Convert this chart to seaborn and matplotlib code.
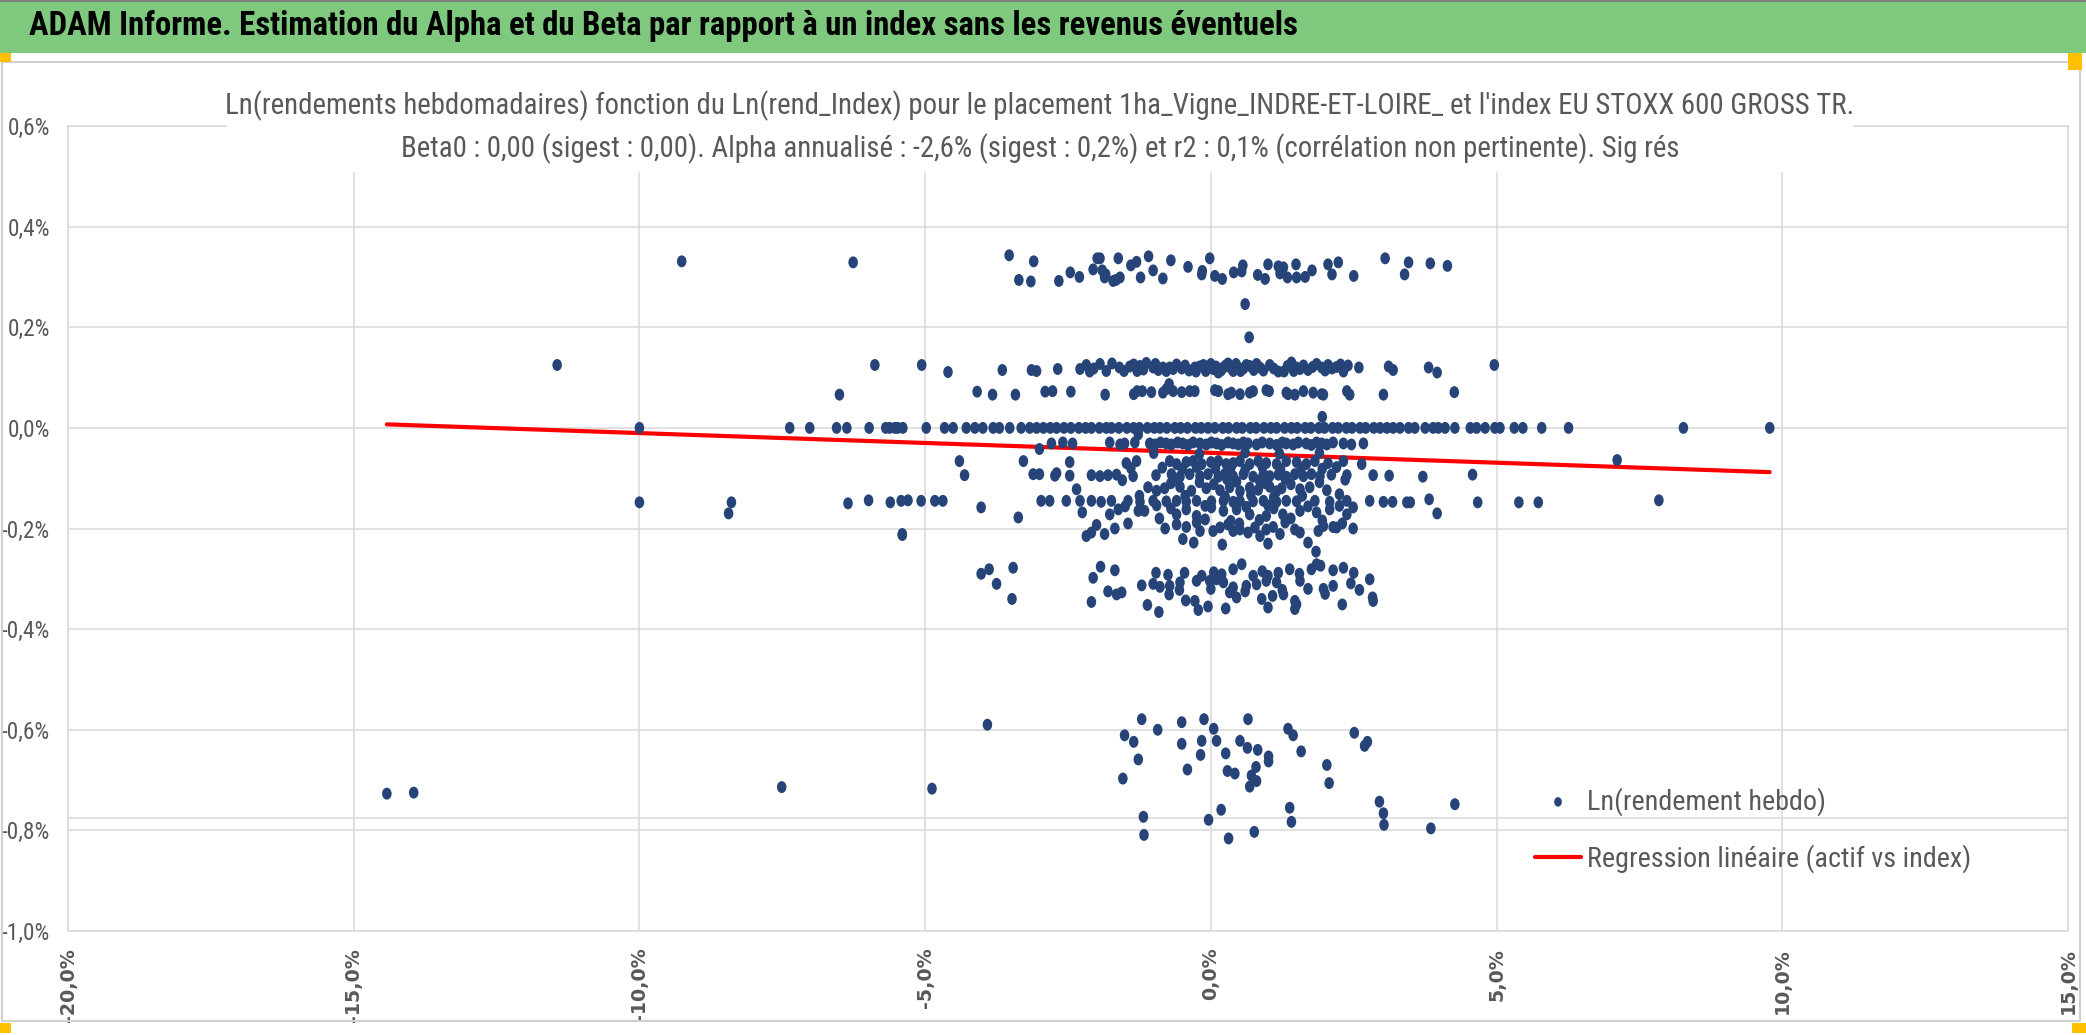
import numpy as np
import pandas as pd
import seaborn as sns
import matplotlib.pyplot as plt
from matplotlib.patches import Rectangle
from matplotlib.path import Path
from matplotlib.ticker import FuncFormatter

# pixel size of the reference
W, H = 2086, 1035

# ---- data (x = Ln(rend_Index) %, y = Ln(rendement hebdo) %) ----
top_x = [-9.26, -6.26, -3.53, -3.10, -3.36, -3.15, -2.66, -2.46, -2.06, -1.99, -1.94, -1.90,
         -1.84, -1.86, -1.71, -1.66, -1.59, -1.62, -1.40, -1.23, -1.09, -1.01, -0.84, -0.70,
         -0.15, -0.16, -0.02, 0.07, 0.40, 0.56, 0.54, 0.82, 1.18, 1.21, 1.27, 1.34, 1.49,
         1.50, 1.77, 2.05, 2.12, 2.23, 3.05, 3.46, 3.39, 3.84, 4.14, 0.60, 0.67, 1.95,
         -2.30, -0.40, 0.20, 1.00, 1.65, 2.50, -1.30, 0.95]
top_y = [0.331, 0.329, 0.343, 0.331, 0.294, 0.291, 0.292, 0.309, 0.315, 0.337, 0.337, 0.313,
         0.305, 0.299, 0.292, 0.294, 0.299, 0.337, 0.323, 0.299, 0.341, 0.313, 0.297, 0.333,
         0.312, 0.305, 0.337, 0.302, 0.309, 0.323, 0.311, 0.304, 0.321, 0.307, 0.319, 0.299, 0.325,
         0.299, 0.313, 0.325, 0.305, 0.329, 0.337, 0.329, 0.305, 0.327, 0.322, 0.246, 0.180, 0.022,
         0.300, 0.320, 0.296, 0.325, 0.300, 0.302, 0.330, 0.296]

hi_x = [-11.44, -5.88, -5.06, -4.60, -3.65, -3.14, -3.05, -2.68, -2.29, -2.18, -2.12, -1.94,
        -1.83, -1.73, -1.52, -1.42, -1.29, -1.24, -1.13, -1.01, -0.92, -0.84, -0.72, -0.60,
        -0.51, -0.28, -0.26, -0.13, -0.05, 0.04, 0.13, 0.22, 0.30, 0.39, 0.48, 0.57, 0.68,
        0.75, 0.86, 1.03, 1.28, 1.34, 1.41, 1.50, 1.56, 1.70, 1.85, 1.94, 2.05, 2.20, 2.32,
        2.40, 2.59, 3.11, 3.19, 3.81, 3.96, 4.96,
        -2.05, -1.60, -1.35, -1.18, -0.97, -0.78, -0.66, -0.45, -0.38, -0.20, -0.09, 0.00,
        0.09, 0.18, 0.26, 0.35, 0.44, 0.52, 0.62, 0.80, 0.92, 1.10, 1.18, 1.45, 1.62, 1.78,
        2.00, 2.12, 2.27]
hi_y = [0.125, 0.125, 0.125, 0.111, 0.115, 0.115, 0.113, 0.117, 0.117, 0.125, 0.112, 0.127,
        0.113, 0.128, 0.113, 0.122, 0.113, 0.123, 0.129, 0.120, 0.115, 0.120, 0.120, 0.126,
        0.118, 0.120, 0.112, 0.125, 0.120, 0.117, 0.110, 0.120, 0.128, 0.113, 0.120, 0.118, 0.123,
        0.115, 0.120, 0.125, 0.112, 0.123, 0.130, 0.120, 0.117, 0.115, 0.127, 0.120, 0.125, 0.121, 0.112,
        0.124, 0.120, 0.122, 0.115, 0.120, 0.110, 0.125,
        0.118, 0.120, 0.126, 0.116, 0.127, 0.113, 0.117, 0.124, 0.114, 0.122, 0.113, 0.127,
        0.122, 0.114, 0.124, 0.119, 0.127, 0.113, 0.125, 0.127, 0.114, 0.118, 0.112, 0.113, 0.124, 0.121,
        0.114, 0.118, 0.126]

mid_x = [-6.50, -4.09, -3.82, -3.42, -2.90, -2.77, -2.45, -1.85, -1.35, -1.29, -1.20, -1.04,
         -0.84, -0.78, -0.73, -0.66, -0.51, -0.37, -0.28, 0.07, 0.13, 0.30, 0.36, 0.51, 0.68,
         0.74, 0.97, 1.02, 1.32, 1.35, 1.47, 1.62, 1.79, 1.94, 1.97, 2.38, 2.43, 3.02, 4.26]
mid_y = [0.066, 0.072, 0.066, 0.066, 0.072, 0.073, 0.072, 0.066, 0.067, 0.073, 0.073, 0.071,
         0.070, 0.077, 0.087, 0.073, 0.071, 0.073, 0.073, 0.075, 0.073, 0.067, 0.070, 0.067, 0.070,
         0.073, 0.075, 0.073, 0.070, 0.067, 0.066, 0.073, 0.070, 0.067, 0.066, 0.073, 0.066, 0.066, 0.071]

zero_x = [-10.0, -7.37, -7.02, -6.55, -6.37, -5.98, -5.69, -5.62, -5.53, -5.48, -5.39, -4.98,
          -4.66, -4.51, -4.28, -4.13, -3.99, -3.81, -3.70, -3.52, -3.32, -3.17, -3.05,
          -2.93, -2.81, -2.70, -2.57, -2.45, -2.31, -2.19, -2.09, -1.95, -1.83, -1.74, -1.61,
          -1.47, -1.35, -1.25, -1.11, -0.99, -0.89, -0.77, -0.63, -0.53, -0.41, -0.27, -0.17,
          -0.05, 0.07, 0.21, 0.31, 0.45, 0.55, 0.69, 0.79, 0.93, 1.05, 1.15, 1.29, 1.41, 1.51,
          1.65, 1.75, 1.89, 1.99, 2.13, 2.23, 2.37, 2.47, 2.61, 2.71, 2.85, 2.96, 3.08, 3.19,
          3.31, 3.46, 3.57, 3.75, 3.89, 3.98, 4.10, 4.27, 4.54, 4.65, 4.80, 4.97, 5.06, 5.31,
          5.46, 5.79, 6.26, 8.27, 9.78]

n03_x = [-3.00, -2.79, -2.59, -2.42, -1.77, -1.59, -1.51, -1.33, -1.07, -0.98, -0.88, -0.78,
         -0.69, -0.58, -0.49, -0.40, -0.31, -0.19, -0.08, 0.01, 0.10, 0.19, 0.30, 0.39, 0.48,
         0.57, 0.65, 0.80, 0.90, 1.03, 1.15, 1.25, 1.32, 1.44, 1.53, 1.67, 1.76, 1.85, 1.94,
         2.03, 2.14, 2.32, 2.46, 2.67, -1.27, 7.11]
n03_y = [-0.042, -0.031, -0.029, -0.031, -0.029, -0.033, -0.031, -0.029, -0.031, -0.033, -0.029, -0.031,
         -0.033, -0.029, -0.031, -0.034, -0.029, -0.031, -0.033, -0.029, -0.031, -0.034, -0.029, -0.031, -0.033,
         -0.029, -0.031, -0.033, -0.029, -0.031, -0.034, -0.029, -0.031, -0.033, -0.029, -0.031, -0.034, -0.029, -0.031,
         -0.033, -0.029, -0.031, -0.033, -0.031, -0.013, -0.064]

n07_x = [-4.40, -3.28, -2.47, -1.48, -1.30, -0.72, -0.60, -0.43, -0.31, -0.16, 0.00, 0.13,
         0.27, 0.39, 0.51, 0.68, 0.83, 0.97, 1.15, 1.32, 1.50, 1.67, 1.82, 2.05, 2.32, 2.64,
         3.12, 3.71, 4.58]
n07_y = [-0.066, -0.066, -0.068, -0.070, -0.066, -0.066, -0.072, -0.068, -0.066, -0.072, -0.068, -0.066,
         -0.072, -0.070, -0.066, -0.072, -0.066, -0.070, -0.072, -0.066, -0.068, -0.072, -0.066, -0.070, -0.066, -0.072,
         -0.095, -0.097, -0.093]

n09_x = [-4.31, -3.11, -3.00, -2.73, -2.70, -2.47, -2.09, -1.94, -1.80, -1.65, -1.36, -0.96,
         -0.69, -0.54, -0.37, -0.19, -0.05, 0.13, 0.24, 0.39, 0.57, 0.74, 0.92, 1.03, 1.18,
         1.32, 1.47, 1.62, 1.76, 1.91, 2.11, 2.38, 2.84]
n09_y = [-0.094, -0.092, -0.092, -0.095, -0.090, -0.095, -0.094, -0.096, -0.094, -0.093, -0.096, -0.094,
         -0.092, -0.097, -0.092, -0.096, -0.092, -0.097, -0.092, -0.096, -0.092, -0.097, -0.092, -0.096, -0.093,
         -0.097, -0.092, -0.096, -0.092, -0.096, -0.093, -0.094, -0.094]

n12_x = [-2.35, -1.10, -0.95, -0.81, -0.54, -0.34, -0.08, 0.16, 0.33, 0.51, 0.68, 0.83, 1.03,
         1.15, 1.24, 1.56, 1.73, 2.03, -0.70, -0.20, 0.05, 0.45, 0.95, 1.40, 1.90, -1.25,
         -0.45, 0.25, 0.70, 1.10, 1.60, 2.25]
n12_y = [-0.122, -0.118, -0.125, -0.120, -0.117, -0.125, -0.120, -0.124, -0.118, -0.126, -0.119, -0.123, -0.117,
         -0.126, -0.120, -0.122, -0.118, -0.124, -0.110, -0.108, -0.112, -0.107, -0.110, -0.112, -0.108, -0.135,
         -0.135, -0.137, -0.133, -0.138, -0.135, -0.132]

n15_x = [-10.0, -8.39, -8.44, -6.35, -5.99, -5.61, -5.42, -5.30, -5.07, -4.83, -4.69, -2.97,
         -2.82, -2.53, -2.29, -2.09, -1.92, -1.74, -1.45, -1.24, -1.01, -0.78, -0.60, -0.43,
         -0.25, 0.01, 0.22, 0.39, 0.51, 0.74, 0.92, 1.15, 1.32, 1.50, 1.82, 2.08, 2.38, 2.78,
         3.02, 3.18, 3.43, 3.49, 3.82, 3.96, 4.67, 5.39, 5.73, 7.84, -5.40]
n15_y = [-0.148, -0.148, -0.170, -0.150, -0.144, -0.148, -0.145, -0.144, -0.145, -0.145, -0.145, -0.145,
         -0.145, -0.145, -0.145, -0.145, -0.147, -0.145, -0.145, -0.147, -0.145, -0.146, -0.145, -0.147,
         -0.145, -0.146, -0.145, -0.147, -0.145, -0.146, -0.145, -0.147, -0.145, -0.146, -0.145, -0.147, -0.145, -0.145,
         -0.147, -0.147, -0.148, -0.148, -0.142, -0.170, -0.148, -0.148, -0.148, -0.144, -0.213]

n17_x = [-4.02, -3.37, -2.25, -1.77, -1.62, -1.27, -1.16, -0.60, -0.43, -0.25, 0.01, 0.22,
         0.45, 0.68, 0.97, 1.26, 1.56, 1.85, 2.08, 2.38, 2.49, -0.90, -0.10, 0.35, 0.85, 1.40,
         1.95, -0.70, 1.10]
n17_y = [-0.158, -0.178, -0.168, -0.172, -0.162, -0.165, -0.165, -0.172, -0.162, -0.175, -0.158, -0.165,
         -0.162, -0.172, -0.175, -0.172, -0.165, -0.168, -0.162, -0.172, -0.158, -0.180, -0.182, -0.185, -0.183, -0.180,
         -0.184, -0.160, -0.160]

n20_x = [-5.40, -2.18, -2.09, -1.86, -1.68, -0.80, -0.60, -0.49, -0.43, -0.19, 0.04, 0.16,
         0.30, 0.39, 0.51, 0.65, 0.77, 0.86, 0.97, 1.09, 1.21, 1.47, 1.56, 1.88, 1.97, 2.14,
         2.20, 2.49, 1.84]
n20_y = [-0.211, -0.215, -0.208, -0.211, -0.200, -0.200, -0.192, -0.221, -0.197, -0.205, -0.205, -0.198,
         -0.192, -0.205, -0.202, -0.208, -0.198, -0.215, -0.202, -0.197, -0.211, -0.202, -0.208, -0.205, -0.195, -0.197,
         -0.198, -0.200, -0.246]

n30_x = [-4.02, -3.88, -3.46, -1.93, -1.68, -0.96, -0.46, -0.16, 0.19, 0.39, 0.54, 0.74, 1.00,
         1.18, 1.38, 1.76, 1.85, 1.92, 2.14, 2.32,
         -3.75, -2.06, -1.21, -1.01, -0.89, -0.72, -0.54, -0.25, -0.02, 0.10, 0.22, 0.39, 0.62,
         0.80, 0.97, 1.15, 1.56, 1.70, 1.97, 2.14, 2.45, 2.78,
         -3.48, -2.09, -1.65, -1.56, -1.11, -0.91, -0.73, -0.44, -0.28, -0.22, -0.05, 0.26, 0.33,
         0.45, 0.89, 1.00, 1.08, 1.27, 1.47, 1.47, 1.50, 2.30, 2.83, 2.84]
n30_y = [-0.290, -0.281, -0.278, -0.276, -0.283, -0.288, -0.288, -0.294, -0.291, -0.281, -0.271, -0.294, -0.294,
         -0.288, -0.281, -0.281, -0.271, -0.274, -0.283, -0.278,
         -0.310, -0.298, -0.313, -0.310, -0.316, -0.314, -0.307, -0.304, -0.304, -0.301, -0.307, -0.317, -0.314,
         -0.311, -0.304, -0.307, -0.304, -0.320, -0.320, -0.314, -0.309, -0.301,
         -0.340, -0.346, -0.331, -0.327, -0.352, -0.366, -0.331, -0.343, -0.344, -0.362, -0.355, -0.359, -0.327,
         -0.337, -0.340, -0.357, -0.334, -0.331, -0.344, -0.360, -0.351, -0.351, -0.337, -0.344]

# extra points in the densest part of the cloud
fill_x = [-1.00, -0.20, 0.60, 1.20, 1.90,
          -1.40, -0.85, -0.50, -0.25, 0.08, 0.35, 0.60, 0.90, 1.22, 1.58, 1.95, 2.20,
          -1.55, -0.60, 0.28, 0.85, 1.30, 2.35,
          -1.50, -0.95, -0.10, 0.62, 1.00, 1.70, 2.25,
          -2.00, -1.45, -0.25, 0.50, 1.30, 2.30,
          -0.30, 0.20, 1.00, 1.70,
          -1.80, -0.55, 0.00, 0.60, 1.25, 2.00, 2.60,
          -0.75, 0.05, 0.90, 1.55, 2.50]
fill_y = [-0.050, -0.052, -0.049, -0.051, -0.050,
          -0.080, -0.079, -0.082, -0.078, -0.081, -0.079, -0.083, -0.078, -0.082, -0.079, -0.081, -0.078,
          -0.104, -0.103, -0.102, -0.104, -0.101, -0.103,
          -0.156, -0.154, -0.155, -0.157, -0.154, -0.156, -0.155,
          -0.193, -0.190, -0.188, -0.190, -0.188, -0.190,
          -0.228, -0.232, -0.230, -0.228,
          -0.325, -0.322, -0.320, -0.325, -0.322, -0.330, -0.322,
          -0.292, -0.287, -0.285, -0.290, -0.288]

low_x = [-14.42, -13.95, -7.51, -4.88, -3.91, -1.51, -1.21, -0.51, -0.12, 0.05, 0.65, 1.35,
         1.44, 2.51, 2.74, -0.93, -1.35, -0.51, -0.16, 0.10, 0.51, 0.64, 0.82, -1.27, -1.54,
         -0.41, -0.18, 0.26, 0.29, 0.42, 0.71, 0.79, 0.80, 0.68, 1.01, 1.01, 1.58, 2.03, 2.07,
         2.69, 2.95, 3.02, 3.03, 3.85, 4.27, -1.18, -1.17, -0.04, 0.18, 0.31, 0.76, 1.38, 1.41]
low_y = [-0.727, -0.725, -0.714, -0.717, -0.590, -0.611, -0.579, -0.585, -0.579, -0.598, -0.579, -0.598,
         -0.611, -0.606, -0.624, -0.600, -0.624, -0.628, -0.622, -0.622, -0.622, -0.636, -0.640, -0.659, -0.697,
         -0.679, -0.650, -0.647, -0.682, -0.687, -0.691, -0.674, -0.702, -0.713, -0.653, -0.663, -0.643, -0.670, -0.706,
         -0.632, -0.743, -0.766, -0.789, -0.796, -0.748, -0.773, -0.809, -0.779, -0.759, -0.816, -0.803, -0.755, -0.783]

# fitted line (end points)
reg_x = [-14.42, 9.78]
reg_y = [0.007, -0.088]

header = "ADAM Informe. Estimation du Alpha et du Beta par rapport à un index sans les revenus éventuels"
title1 = ("Ln(rendements hebdomadaires) fonction du Ln(rend_Index) pour le placement "
          "1ha_Vigne_INDRE-ET-LOIRE_ et l'index EU STOXX 600 GROSS TR.")
title2 = ("Beta0 : 0,00 (sigest : 0,00). Alpha annualisé : -2,6% (sigest : 0,2%) et r2 : 0,1% "
          "(corrélation non pertinente). Sig rés")
lab_pts = "Ln(rendement hebdo)"
lab_reg = "Regression linéaire (actif vs index)"

x_ticks = [-20, -15, -10, -5, 0, 5, 10, 15]
y_ticks = [-1.0, -0.8, -0.6, -0.4, -0.2, 0.0, 0.2, 0.4, 0.6]

# ---- assemble ----
pts = pd.concat([
    pd.DataFrame({'x': top_x, 'y': top_y}),
    pd.DataFrame({'x': hi_x, 'y': hi_y}),
    pd.DataFrame({'x': mid_x, 'y': mid_y}),
    pd.DataFrame({'x': zero_x, 'y': 0.0}),
    pd.DataFrame({'x': n03_x, 'y': n03_y}),
    pd.DataFrame({'x': n07_x, 'y': n07_y}),
    pd.DataFrame({'x': n09_x, 'y': n09_y}),
    pd.DataFrame({'x': n12_x, 'y': n12_y}),
    pd.DataFrame({'x': n15_x, 'y': n15_y}),
    pd.DataFrame({'x': n17_x, 'y': n17_y}),
    pd.DataFrame({'x': n20_x, 'y': n20_y}),
    pd.DataFrame({'x': n30_x, 'y': n30_y}),
    pd.DataFrame({'x': fill_x, 'y': fill_y}),
    pd.DataFrame({'x': low_x, 'y': low_y}),
], ignore_index=True)
reg = pd.DataFrame({'x': reg_x, 'y': reg_y})

sns.set_theme(style='white')
narrow = ['Roboto Condensed', 'Liberation Sans Narrow', 'Roboto', 'DejaVu Sans']
plt.rcParams['font.family'] = narrow

GREY_TXT = '#595959'
GRID = '#D9D9D9'
BLUE = '#264478'

# the excel dots are a bit taller than wide
circ = Path.unit_circle()
dot = Path(circ.vertices * np.array([0.8, 1.0]), circ.codes)

fig = plt.figure(figsize=(W / 100, H / 100), dpi=100)
fig.patch.set_facecolor('white')
renderer = fig.canvas.get_renderer()


def size_for(s, width_px, **kw):
    # font size (pt) that gives the text the wanted pixel width
    t = fig.text(0, 0, s, fontsize=10, **kw)
    w = t.get_window_extent(renderer).width
    t.remove()
    return 10 * width_px / w


# plot area: -20% at x=68, 15% at x=2068, 0.6% at y=126, -1.0% at y=931
ax = fig.add_axes([68 / W, 1 - 931 / H, 2000 / W, 805 / H])

sns.lineplot(data=reg, x='x', y='y', ax=ax, color='#FF0000', linewidth=3.0,
             zorder=2, label=lab_reg)
sns.scatterplot(data=pts, x='x', y='y', ax=ax, color=BLUE, s=74, marker=dot,
                linewidth=0, edgecolor='none', zorder=3, label=lab_pts)

ax.set_xlim(-20, 15)
ax.set_ylim(-1.0, 0.6)
ax.set_xticks(x_ticks)
ax.set_yticks(y_ticks)
ax.xaxis.set_major_formatter(FuncFormatter(lambda v, p: f"{v:.1f}%".replace('.', ',')))
ax.yaxis.set_major_formatter(FuncFormatter(lambda v, p: f"{v:.1f}%".replace('.', ',')))
ax.set_xlabel('')
ax.set_ylabel('')
ax.grid(True, color=GRID, linewidth=1.1)
ax.set_axisbelow(True)
ax.axhline(-0.775, color=GRID, linewidth=1.1, zorder=0.5)
for sp in ax.spines.values():
    sp.set_color(GRID)
    sp.set_linewidth(1.1)

ysize = size_for('0,6%', 42)
xsize = size_for('-20,0%', 74, family='DejaVu Sans', weight='bold')
ax.tick_params(axis='y', length=0, pad=13, labelsize=ysize, labelcolor=GREY_TXT)
ax.tick_params(axis='x', length=0, pad=12, labelsize=xsize, labelcolor=GREY_TXT,
               labelrotation=90)
for lab in ax.get_xticklabels():
    lab.set_fontfamily('DejaVu Sans')
    lab.set_fontweight('bold')

# legend, no frame, lower right
lsize = size_for(lab_reg, 380)
lpx = lsize * 100 / 72
h, l = ax.get_legend_handles_labels()
order = [l.index(lab_pts), l.index(lab_reg)]
leg = ax.legend([h[i] for i in order], [l[i] for i in order], loc='center left',
                bbox_to_anchor=(1535 / W, 1 - 830 / H), bbox_transform=fig.transFigure,
                frameon=False, fontsize=lsize, borderpad=0, borderaxespad=0,
                handlelength=46 / lpx, handletextpad=6 / lpx,
                labelspacing=(61 - 1.15 * lpx) / lpx, markerscale=0.8)
for t in leg.get_texts():
    t.set_color(GREY_TXT)

# green header band
fig.add_artist(Rectangle((0, 1 - 53 / H), 1, 53 / H, transform=fig.transFigure,
                         facecolor='#7FC97F', edgecolor='none', zorder=5))
fig.add_artist(plt.Line2D([0, 1], [1 - 1 / H, 1 - 1 / H], transform=fig.transFigure,
                          color='#7F7F7F', linewidth=1.5, zorder=6))
hsize = size_for(header, 1268, weight='bold')
fig.text(29 / W, 1 - 26 / H, header, fontsize=hsize, weight='bold', color='black',
         ha='left', va='center', zorder=7)

# chart area border
fig.add_artist(Rectangle((2 / W, 1 - 1021 / H), 2078 / W, 959 / H, transform=fig.transFigure,
                         facecolor='none', edgecolor='#D0D0D0', linewidth=1.5, zorder=4))

# excel selection handles
for (x0, y0, w0, h0) in [(0, 53, 11, 9), (2068, 53, 14, 17), (0, 1023, 11, 10), (2072, 1023, 14, 10)]:
    fig.add_artist(Rectangle((x0 / W, 1 - (y0 + h0) / H), w0 / W, h0 / H,
                             transform=fig.transFigure, facecolor='#FFC000',
                             edgecolor='none', zorder=8))

# chart title with its white box
fig.add_artist(Rectangle((227 / W, 1 - 172 / H), 1626 / W, 100 / H, transform=fig.transFigure,
                         facecolor='white', edgecolor='none', zorder=5))
tsize = size_for(title1, 1615)
fig.text(1040 / W, 1 - 106 / H, title1, fontsize=tsize, color=GREY_TXT,
         ha='center', va='center', zorder=6)
fig.text(1040 / W, 1 - 149 / H, title2, fontsize=tsize, color=GREY_TXT,
         ha='center', va='center', zorder=6)

fig.savefig('out.png', dpi=100)
